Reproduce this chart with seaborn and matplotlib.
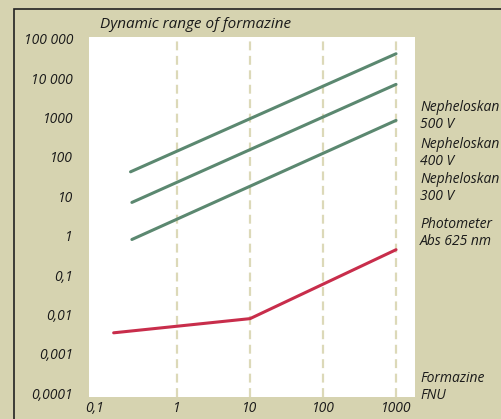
import matplotlib
matplotlib.use("Agg")
import matplotlib.pyplot as plt
import matplotlib.transforms as mtransforms
import seaborn as sns

# data (FNU on x, signal on y, log-log)
neph500_x = [0.23, 1000]
neph500_y = [42, 42000]
neph400_x = [0.24, 1000]
neph400_y = [7.0, 7000]
neph300_x = [0.24, 1000]
neph300_y = [0.80, 850]
photo_x = [0.135, 10, 1000]
photo_y = [0.0034, 0.0078, 0.44]

x_ticks = [0.1, 1, 10, 100, 1000]
x_labels = ["0,1", "1", "10", "100", "1000"]
y_ticks = [1e5, 1e4, 1e3, 1e2, 10, 1, 0.1, 0.01, 0.001, 0.0001]
y_labels = ["100 000", "10 000", "1000", "100", "10", "1", "0,1", "0,01", "0,001", "0,0001"]

series_labels = ["Nepheloskan\n500 V", "Nepheloskan\n400 V", "Nepheloskan\n300 V",
                 "Photometer\nAbs 625 nm", "Formazine\nFNU"]

BG = "#d6d3b0"
GREEN = "#5b8870"
RED = "#c82d4b"
GRIDC = "#dcd9b8"
TXT = "#1a1a1a"

sns.set_style("white")
plt.rcParams["font.family"] = ["Open Sans", "DejaVu Sans"]
plt.rcParams["font.style"] = "italic"

fig = plt.figure(figsize=(5.02, 4.19), dpi=100)
fig.patch.set_facecolor(BG)

# black frame (runs off the right and bottom edges)
frame = plt.Rectangle((14 / 502, -0.1), 1.0, 1 - 9 / 419 + 0.1, transform=fig.transFigure,
                      fill=False, edgecolor="#222222", linewidth=1.2)
fig.patches.append(frame)

ax = fig.add_axes([89 / 502, 1 - 397 / 419, 326 / 502, 360 / 419])
ax.set_facecolor("white")

for xs, ys in [(neph500_x, neph500_y), (neph400_x, neph400_y), (neph300_x, neph300_y)]:
    sns.lineplot(x=xs, y=ys, ax=ax, color=GREEN, linewidth=2.2)
sns.lineplot(x=photo_x, y=photo_y, ax=ax, color=RED, linewidth=2.2)

ax.set_xscale("log")
ax.set_yscale("log")
ax.set_xlim(0.062, 1820)
ax.set_ylim(0.0000795, 112000)

ax.set_xticks(x_ticks)
ax.set_xticklabels(x_labels)
ax.set_yticks(y_ticks)
ax.set_yticklabels(y_labels)
ax.minorticks_off()
ax.tick_params(axis="y", length=8, width=2.4, color="white", pad=3.5, labelsize=10)
ax.tick_params(axis="x", length=0, pad=3, labelsize=10)
for lab in ax.get_xticklabels() + ax.get_yticklabels():
    lab.set_fontstyle("italic")
    lab.set_color(TXT)

# the "0,1" label sits a bit left of its decade in the original
first = ax.get_xticklabels()[0]
first.set_transform(first.get_transform() +
                    mtransforms.ScaledTranslation(-10 / 100, 0, fig.dpi_scale_trans))

ax.grid(axis="x", color=GRIDC, linestyle=(0, (4, 2.5)), linewidth=1.6)
ax.get_xgridlines()[0].set_visible(False)
ax.set_axisbelow(True)
for s in ax.spines.values():
    s.set_visible(False)

fig.text(100 / 502, 1 - 24 / 419, "Dynamic range of formazine", fontsize=11,
         style="italic", va="center", ha="left", color=TXT)

label_y = [116, 153, 188, 233, 387]
for lab, yy in zip(series_labels, label_y):
    fig.text(420 / 502, 1 - yy / 419, lab, fontsize=10, style="italic", va="center",
             ha="left", color=TXT, linespacing=1.15)

fig.savefig("out.png", dpi=100, facecolor=BG)
